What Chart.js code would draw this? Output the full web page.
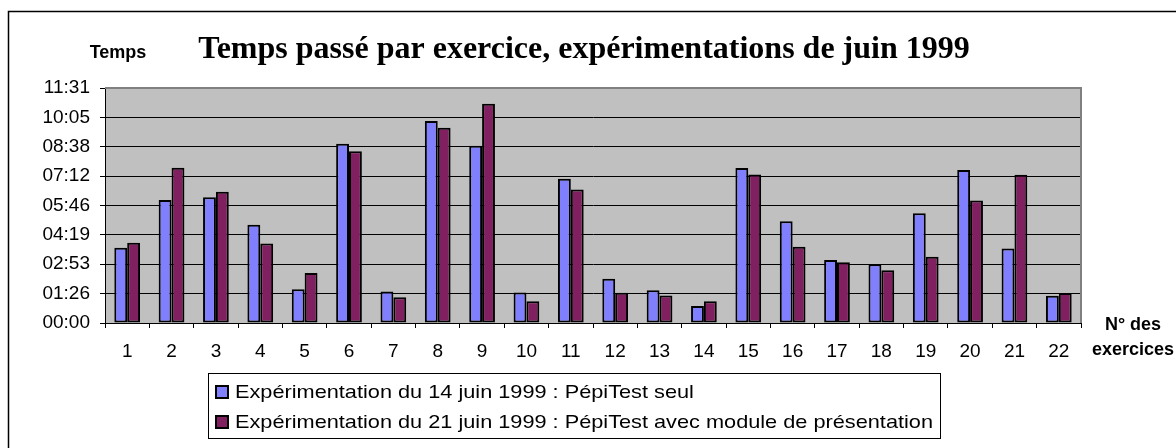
<!DOCTYPE html>
<html lang="fr">
<head>
  <meta charset="UTF-8"/>
  <title>Temps passé par exercice</title>
  <script src="https://cdn.jsdelivr.net/npm/chart.js"></script>
  <style>
    html, body { margin: 0; padding: 0; background: #fff; }
    #wrap { width: 1176px; height: 448px; }
  </style>
</head>
<body>
  <div id="wrap"><canvas id="chart" width="1176" height="448"></canvas></div>

  <script>
    // exercise numbers on the x axis
    const exercises = ['1','2','3','4','5','6','7','8','9','10','11','12','13','14','15','16','17','18','19','20','21','22'];
    // time spent per exercise, in seconds
    const june14 = [221, 362, 370, 289, 99, 527, 93, 594, 521, 90, 424, 130, 96, 50, 456, 299, 185, 173, 323, 450, 219, 80];
    const june21 = [236, 457, 386, 234, 147, 505, 76, 574, 645, 64, 393, 89, 81, 64, 437, 224, 179, 155, 195, 360, 436, 88];
    // y ticks in seconds (steps of 1/1000 day)
    const yTicks = [0, 86.4, 172.8, 259.2, 345.6, 432, 518.4, 604.8, 691.2];

    const labelJune14 = 'Expérimentation du 14 juin 1999 : PépiTest seul';
    const labelJune21 = 'Expérimentation du 21 juin 1999 : PépiTest avec module de présentation';

    const SANS = "'Liberation Sans', Arial, sans-serif";

    function mmss(v) {
      const s = Math.round(v);
      const m = Math.floor(s / 60);
      const r = s % 60;
      return String(m).padStart(2, '0') + ':' + String(r).padStart(2, '0');
    }

    const frame = {
      id: 'frame',
      beforeDraw(chart) {
        const { ctx, chartArea: a } = chart;
        ctx.save();
        ctx.fillStyle = '#fff';
        ctx.fillRect(0, 0, chart.width, chart.height);
        ctx.fillStyle = '#c0c0c0';
        ctx.fillRect(a.left, a.top, a.right - a.left, a.bottom - a.top);
        // outer chart border
        ctx.strokeStyle = '#000';
        ctx.lineWidth = 1.5;
        ctx.beginPath();
        ctx.moveTo(8.5, chart.height);
        ctx.lineTo(8.5, 11.5);
        ctx.lineTo(chart.width, 11.5);
        ctx.stroke();
        ctx.restore();
      },
      afterDraw(chart) {
        const { ctx, chartArea: a } = chart;
        ctx.save();
        // plot area border, top and right
        ctx.strokeStyle = '#808080';
        ctx.lineWidth = 2;
        ctx.beginPath();
        ctx.moveTo(a.left, a.top);
        ctx.lineTo(a.right, a.top);
        ctx.lineTo(a.right, a.bottom);
        ctx.stroke();

        ctx.fillStyle = '#000';
        ctx.textAlign = 'center';
        ctx.textBaseline = 'alphabetic';
        ctx.font = "bold 32px 'Liberation Serif', 'DejaVu Serif', serif";
        ctx.fillText('Temps passé par exercice, expérimentations de juin 1999', 584, 58);

        ctx.textBaseline = 'middle';
        ctx.font = 'bold 18px ' + SANS;
        ctx.fillText('Temps', 118, 53);
        ctx.fillText('N° des', 1133, 325);
        ctx.fillText('exercices', 1133, 350);

        // legend box
        const lx = 208, ly = 373, lw = 732, lh = 65;
        ctx.strokeStyle = '#000';
        ctx.lineWidth = 1;
        ctx.strokeRect(lx + 0.5, ly + 0.5, lw, lh);
        const rows = [392, 422];
        ctx.textAlign = 'left';
        ctx.font = '19px ' + SANS;
        // legend text is a little wider than the plain font
        const widest = Math.max(...chart.data.datasets.map(ds => ctx.measureText(ds.label).width));
        const sx = 698 / widest;
        chart.data.datasets.forEach((ds, i) => {
          const y = rows[i];
          ctx.fillStyle = ds.backgroundColor;
          ctx.fillRect(215, y - 7, 14, 14);
          ctx.lineWidth = 2;
          ctx.strokeStyle = '#000';
          ctx.strokeRect(216, y - 6, 12, 12);
          ctx.fillStyle = '#000';
          ctx.save();
          ctx.translate(235, y + 1);
          ctx.scale(sx, 1);
          ctx.fillText(ds.label, 0, 0);
          ctx.restore();
        });
        ctx.restore();
      }
    };

    new Chart(document.getElementById('chart'), {
      type: 'bar',
      data: {
        labels: exercises,
        datasets: [
          { label: labelJune14, data: june14, backgroundColor: '#8080ff', borderColor: '#000', borderWidth: 2, borderSkipped: false },
          { label: labelJune21, data: june21, backgroundColor: '#802060', borderColor: '#000', borderWidth: 2, borderSkipped: false }
        ]
      },
      options: {
        responsive: false,
        animation: false,
        layout: { padding: { left: 0, right: 95, top: 88, bottom: 0 } },
        datasets: { bar: { categoryPercentage: 0.58, barPercentage: 1.0 } },
        plugins: {
          legend: { display: false },
          title: { display: false },
          tooltip: { enabled: false }
        },
        scales: {
          x: {
            afterFit: s => { s.height = 125; },
            grid: { offset: true, drawOnChartArea: false, color: '#000', tickLength: 5 },
            border: { color: '#000', width: 1 },
            ticks: { color: '#000', font: { family: SANS, size: 19 }, padding: 12, maxRotation: 0 }
          },
          y: {
            min: 0,
            max: 691.2,
            afterFit: s => { s.width = 105; },
            afterBuildTicks: s => { s.ticks = yTicks.map(v => ({ value: v })); },
            grid: { color: '#000', tickLength: 5 },
            border: { color: '#000', width: 1 },
            ticks: { color: '#000', font: { family: SANS, size: 19 }, padding: 10, callback: v => mmss(v) }
          }
        }
      },
      plugins: [frame]
    });
  </script>
</body>
</html>
